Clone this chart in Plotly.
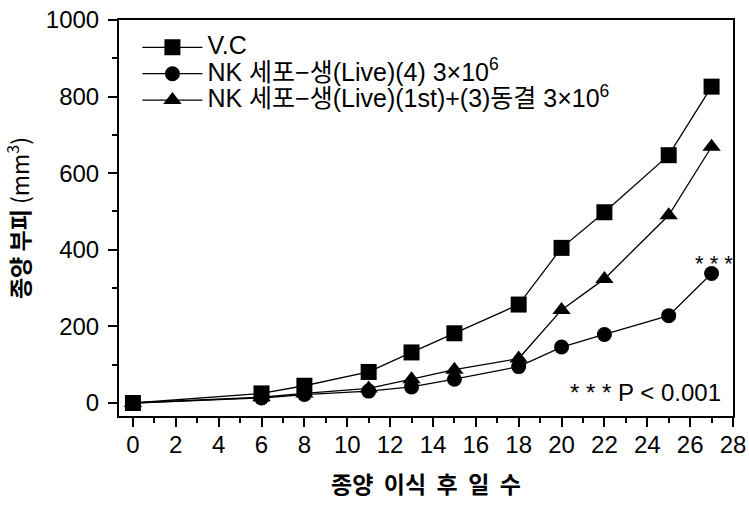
import plotly.graph_objects as go

days = [0, 6, 8, 11, 13, 15, 18, 20, 22, 25, 27]
vc = [0, 25, 45, 81, 132, 182, 257, 405, 498, 647, 826]
nk_live = [0, 13, 22, 31, 42, 62, 95, 146, 179, 228, 338]
nk_frozen = [0, 15, 25, 38, 62, 87, 116, 243, 324, 490, 669]

names = ["V.C",
         "NK 세포−생(Live)(4) 3×10<sup>6</sup>",
         "NK 세포−생(Live)(1st)+(3)동결 3×10<sup>6</sup>"]
symbols = ["square", "circle", "triangle-up"]
sizes = [16, 15, 16]
series = [vc, nk_live, nk_frozen]

FONT = "Liberation Sans, Arial, Noto Sans CJK KR, sans-serif"

fig = go.Figure()
for name, ys, sym, sz in zip(names, series, symbols, sizes):
    fig.add_trace(go.Scatter(
        x=days, y=ys, mode="lines+markers",
        name='<span style="font-size:25px">' + name + '</span>',
        line=dict(color="black", width=1.3),
        marker=dict(symbol=sym, size=sz, color="black", line=dict(width=0)),
    ))

fig.add_annotation(x=27, y=338, text="* * *", showarrow=False, xref="x", yref="y",
                   yshift=10, xshift=2, font=dict(size=22, color="black", family=FONT))
fig.add_annotation(x=0.984, y=0.02, xref="paper", yref="paper", xanchor="right", yanchor="bottom",
                   text="* * * P < 0.001", showarrow=False,
                   font=dict(size=24, color="black", family=FONT))

fig.update_layout(
    width=749, height=510,
    margin=dict(l=119, r=16, t=20, b=94),
    paper_bgcolor="white", plot_bgcolor="white",
    font=dict(family=FONT, color="black"),
    showlegend=True,
    legend=dict(x=0.03, y=0.977, xanchor="left", yanchor="top",
                bgcolor="rgba(0,0,0,0)", font=dict(size=18, family=FONT),
                tracegroupgap=0, itemwidth=60),
    xaxis=dict(range=[-0.65, 28], tickmode="array", tickvals=list(range(0, 29, 2)),
               ticks="outside", ticklen=9, tickwidth=2, tickcolor="black",
               minor=dict(tickvals=list(range(1, 28, 2)), ticks="outside", ticklen=5, tickwidth=2, tickcolor="black"),
               showline=True, linecolor="black", linewidth=2, mirror=True,
               showgrid=False, zeroline=False, automargin=False,
               ticklabeloverflow="allow", ticklabelstandoff=-3,
               tickfont=dict(size=24, family=FONT),
               title=dict(text="<b>종양  이식  후  일  수</b>", font=dict(size=23, family="Noto Sans CJK KR"), standoff=20)),
    yaxis=dict(range=[-34, 1000], tickmode="array", tickvals=[0, 200, 400, 600, 800, 1000],
               ticks="outside", ticklen=9, tickwidth=2, tickcolor="black",
               minor=dict(tickvals=[100, 300, 500, 700, 900], ticks="outside", ticklen=5, tickwidth=2, tickcolor="black"),
               showline=True, linecolor="black", linewidth=2, mirror=True,
               showgrid=False, zeroline=False, automargin=False,
               ticklabeloverflow="allow", ticklabelstandoff=4,
               tickfont=dict(size=24, family=FONT),
               title=dict(text="<b>종양 부피</b> (mm<sup>3</sup>)", font=dict(size=23, family="Noto Sans CJK KR"), standoff=28)),
)

fig.write_html("out.html", config={"displayModeBar": False},
               post_script="document.body.style.margin='0';")
